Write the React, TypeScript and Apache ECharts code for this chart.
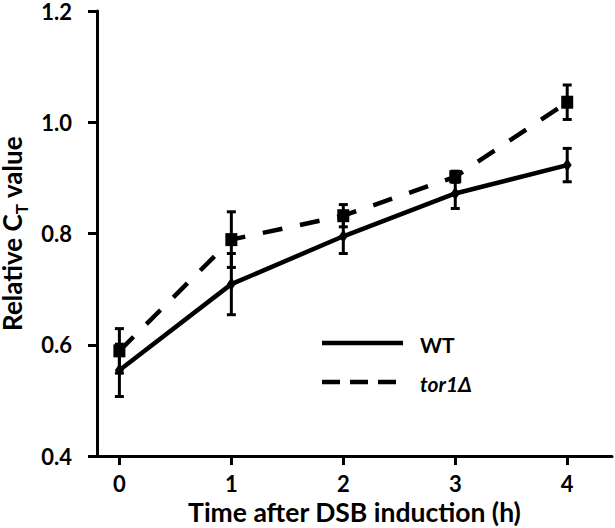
import React, { useEffect, useRef } from "react";
import * as echarts from "echarts";

const times = [0, 1, 2, 3, 4];
const wtValues = [0.554, 0.709, 0.795, 0.872, 0.923];
const wtErrors = [0.047, 0.055, 0.031, 0.027, 0.03];
const torValues = [0.589, 0.789, 0.832, 0.902, 1.036];
const torErrors = [0.04, 0.05, 0.02, 0.01, 0.031];
const yTicks = [0.4, 0.6, 0.8, 1.0, 1.2];
const seriesNames = ["WT", "tor1Δ"];

const FONT = "Lato";

function errorSeries(values: number[], errors: number[]) {
  return {
    type: "custom",
    z: 1,
    data: times.map((t, i) => [t, values[i], errors[i]]),
    renderItem: (params: any, api: any) => {
      const x = api.value(0);
      const y = api.value(1);
      const e = api.value(2);
      const top = api.coord([x, y + e]);
      const bot = api.coord([x, y - e]);
      const w = 4.5;
      const st = { stroke: "#000", lineWidth: 3 };
      return {
        type: "group",
        children: [
          { type: "line", shape: { x1: top[0], y1: top[1], x2: bot[0], y2: bot[1] }, style: st },
          { type: "line", shape: { x1: top[0] - w, y1: top[1], x2: top[0] + w, y2: top[1] }, style: st },
          { type: "line", shape: { x1: bot[0] - w, y1: bot[1], x2: bot[0] + w, y2: bot[1] }, style: st },
        ],
      };
    },
  };
}

export default function App() {
  const ref = useRef<HTMLDivElement>(null);
  useEffect(() => {
    if (!ref.current) return;
    const chart = echarts.init(ref.current, null, { renderer: "svg" });
    chart.setOption({
      animation: false,
      grid: { left: 97, top: 11, right: 3, bottom: 72, containLabel: false, outerBoundsMode: "none" },
      xAxis: {
        type: "value",
        min: -0.2,
        max: 4.4,
        name: "Time after DSB induction (h)",
        nameLocation: "middle",
        nameGap: 33,
        nameTextStyle: { fontFamily: FONT, fontWeight: "bold", fontSize: 26.5, color: "#000" },
        axisLine: { show: true, onZero: false, lineStyle: { color: "#000", width: 3 } },
        axisTick: { show: true, customValues: times, length: 9, lineStyle: { color: "#000", width: 3 } },
        axisLabel: { customValues: times, fontFamily: FONT, fontWeight: "bold", fontSize: 22, color: "#000", margin: 16 },
        splitLine: { show: false },
      },
      yAxis: {
        type: "value",
        min: 0.4,
        max: 1.2,
        interval: 0.2,
        name: "{a|Relative C}{s|T}{a| value}",
        nameLocation: "middle",
        nameRotate: 90,
        nameGap: 72,
        nameTextStyle: {
          fontFamily: FONT,
          fontWeight: "bold",
          color: "#000",
          rich: {
            a: { fontFamily: FONT, fontWeight: "bold", fontSize: 26, color: "#000", lineHeight: 24, verticalAlign: "bottom" },
            s: { fontFamily: FONT, fontWeight: "bold", fontSize: 17, color: "#000", lineHeight: 18, verticalAlign: "bottom", padding: [0, 0, -5, 0] },
          },
        },
        axisLine: { show: true, onZero: false, lineStyle: { color: "#000", width: 3 } },
        axisTick: { show: true, length: 9, lineStyle: { color: "#000", width: 3 } },
        axisLabel: {
          fontFamily: FONT,
          fontWeight: "bold",
          fontSize: 22,
          lineHeight: 16,
          color: "#000",
          margin: 25,
          formatter: (v: number) => (yTicks.some((t) => Math.abs(t - v) < 1e-6) ? v.toFixed(1) : ""),
        },
        splitLine: { show: false },
      },
      series: [
        errorSeries(wtValues, wtErrors),
        errorSeries(torValues, torErrors),
        {
          name: seriesNames[0],
          type: "line",
          z: 3,
          data: times.map((t, i) => [t, wtValues[i]]),
          symbol: "diamond",
          symbolSize: [9, 13],
          itemStyle: { color: "#000" },
          lineStyle: { color: "#000", width: 4.5, type: "solid" },
        },
        {
          name: seriesNames[1],
          type: "line",
          z: 3,
          data: times.map((t, i) => [t, torValues[i]]),
          symbol: "rect",
          symbolSize: [12, 13],
          itemStyle: { color: "#000" },
          lineStyle: { color: "#000", width: 4.5, type: [20, 18] },
        },
      ],
      graphic: [
        { type: "line", shape: { x1: 322, y1: 343, x2: 403, y2: 343 }, style: { stroke: "#000", lineWidth: 4.5 } },
        { type: "line", shape: { x1: 322, y1: 382, x2: 403, y2: 382 }, style: { stroke: "#000", lineWidth: 4.5, lineDash: [18, 10] } },
        { type: "text", x: 420, y: 344, style: { text: seriesNames[0], font: `bold 21px ${FONT}`, fill: "#000", verticalAlign: "middle" } },
        { type: "text", x: 420, y: 383, style: { text: seriesNames[1], font: `italic bold 21px ${FONT}`, fill: "#000", verticalAlign: "middle" } },
      ],
    });
    return () => chart.dispose();
  }, []);
  return <div ref={ref} style={{ width: 615, height: 528, position: "absolute", left: 0, top: 0 }} />;
}
